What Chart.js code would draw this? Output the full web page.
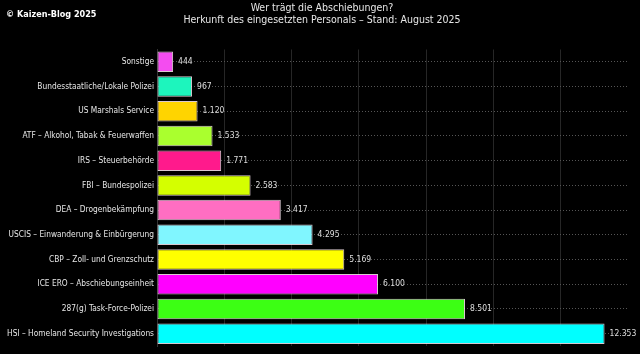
<!DOCTYPE html>
<html>
<head>
<meta charset="utf-8">
<script src="https://cdn.jsdelivr.net/npm/chart.js@4"></script>
<style>
  html, body { margin: 0; padding: 0; background: #000; }
  #wrap { position: relative; width: 640px; height: 354px; overflow: hidden; }
  #brand { position: absolute; left: 6px; top: 9px; color: #fff; font: bold 9px "DejaVu Sans Condensed", "DejaVu Sans", sans-serif; }
  #titel { position: absolute; left: 0; top: 1px; width: 644px; text-align: center; color: #e6e6e6;
           font: 10.5px/12px "DejaVu Sans Condensed", "DejaVu Sans", sans-serif; }
</style>
</head>
<body>
<div id="wrap">
  <canvas id="myChart" width="640" height="354"></canvas>
  <div id="brand">© Kaizen-Blog 2025</div>
  <div id="titel"></div>
</div>
<script>
var kategorien = [
    "Sonstige",
    "Bundesstaatliche/Lokale Polizei",
    "US Marshals Service",
    "ATF – Alkohol, Tabak & Feuerwaffen",
    "IRS – Steuerbehörde",
    "FBI – Bundespolizei",
    "DEA – Drogenbekämpfung",
    "USCIS – Einwanderung & Einbürgerung",
    "CBP – Zoll- und Grenzschutz",
    "ICE ERO – Abschiebungseinheit",
    "287(g) Task-Force-Polizei",
    "HSI – Homeland Security Investigations"
];
var personal = [444, 967, 1120, 1533, 1771, 2583, 3417, 4295, 5169, 6100, 8501, 12353];
var farben = ["#f44cf0", "#1df5bd", "#ffd400", "#aaff2e", "#ff1a8c", "#d4ff00",
              "#ff6ec2", "#80f6ff", "#ffff00", "#ff00ff", "#3cff14", "#00ffff"];
var titel = ["Wer trägt die Abschiebungen?", "Herkunft des eingesetzten Personals – Stand: August 2025"];

document.getElementById("titel").innerHTML = titel.join("<br>");

function deZahl(n) {
    return String(n).replace(/\B(?=(\d{3})+(?!\d))/g, ".");
}

// Werte rechts neben die Balken schreiben
var wertLabels = {
    id: "wertLabels",
    afterDatasetsDraw: function (chart) {
        var ctx = chart.ctx;
        ctx.save();
        ctx.font = "8.5px 'DejaVu Sans Condensed', 'DejaVu Sans'";
        ctx.fillStyle = "#dddddd";
        ctx.textBaseline = "middle";
        chart.getDatasetMeta(0).data.forEach(function (bar, i) {
            ctx.fillText(deZahl(personal[i]), bar.x + 5, bar.y);
        });
        ctx.restore();
    }
};

var ctx = document.getElementById("myChart").getContext("2d");
var myChart = new Chart(ctx, {
    type: "bar",
    data: {
        labels: kategorien,
        datasets: [
            {
                data: personal,
                backgroundColor: farben,
                borderColor: "rgba(255,235,245,0.85)",
                borderWidth: 1,
                borderSkipped: false,
                barPercentage: 0.83,
                categoryPercentage: 1,
            },
        ],
    },
    options: {
        indexAxis: "y",
        responsive: false,
        animation: false,
        layout: { padding: { top: 49.5, right: 12, bottom: 1, left: 0 } },
        plugins: {
            legend: { display: false },
            tooltip: { enabled: false },
            title: { display: false },
        },
        scales: {
            x: {
                min: 0,
                max: 13000,
                ticks: { display: false, stepSize: 2000 },
                grid: {
                    color: function (c) { return c.tick && c.tick.value >= 13000 ? "rgba(0,0,0,0)" : "#262626"; },
                    lineWidth: 1,
                    drawTicks: false,
                },
                border: { display: false },
            },
            y: {
                afterFit: function (scale) { scale.width = 157; },
                ticks: { color: "#e6e6e6", font: { family: "'DejaVu Sans Condensed', 'DejaVu Sans'", size: 8.3 }, padding: 3 },
                grid: { color: "#555555", offset: false, drawTicks: false },
                border: { display: true, color: "#333333", dash: [1, 2] },
            },
        },
    },
    plugins: [wertLabels],
});
</script>
</body>
</html>
